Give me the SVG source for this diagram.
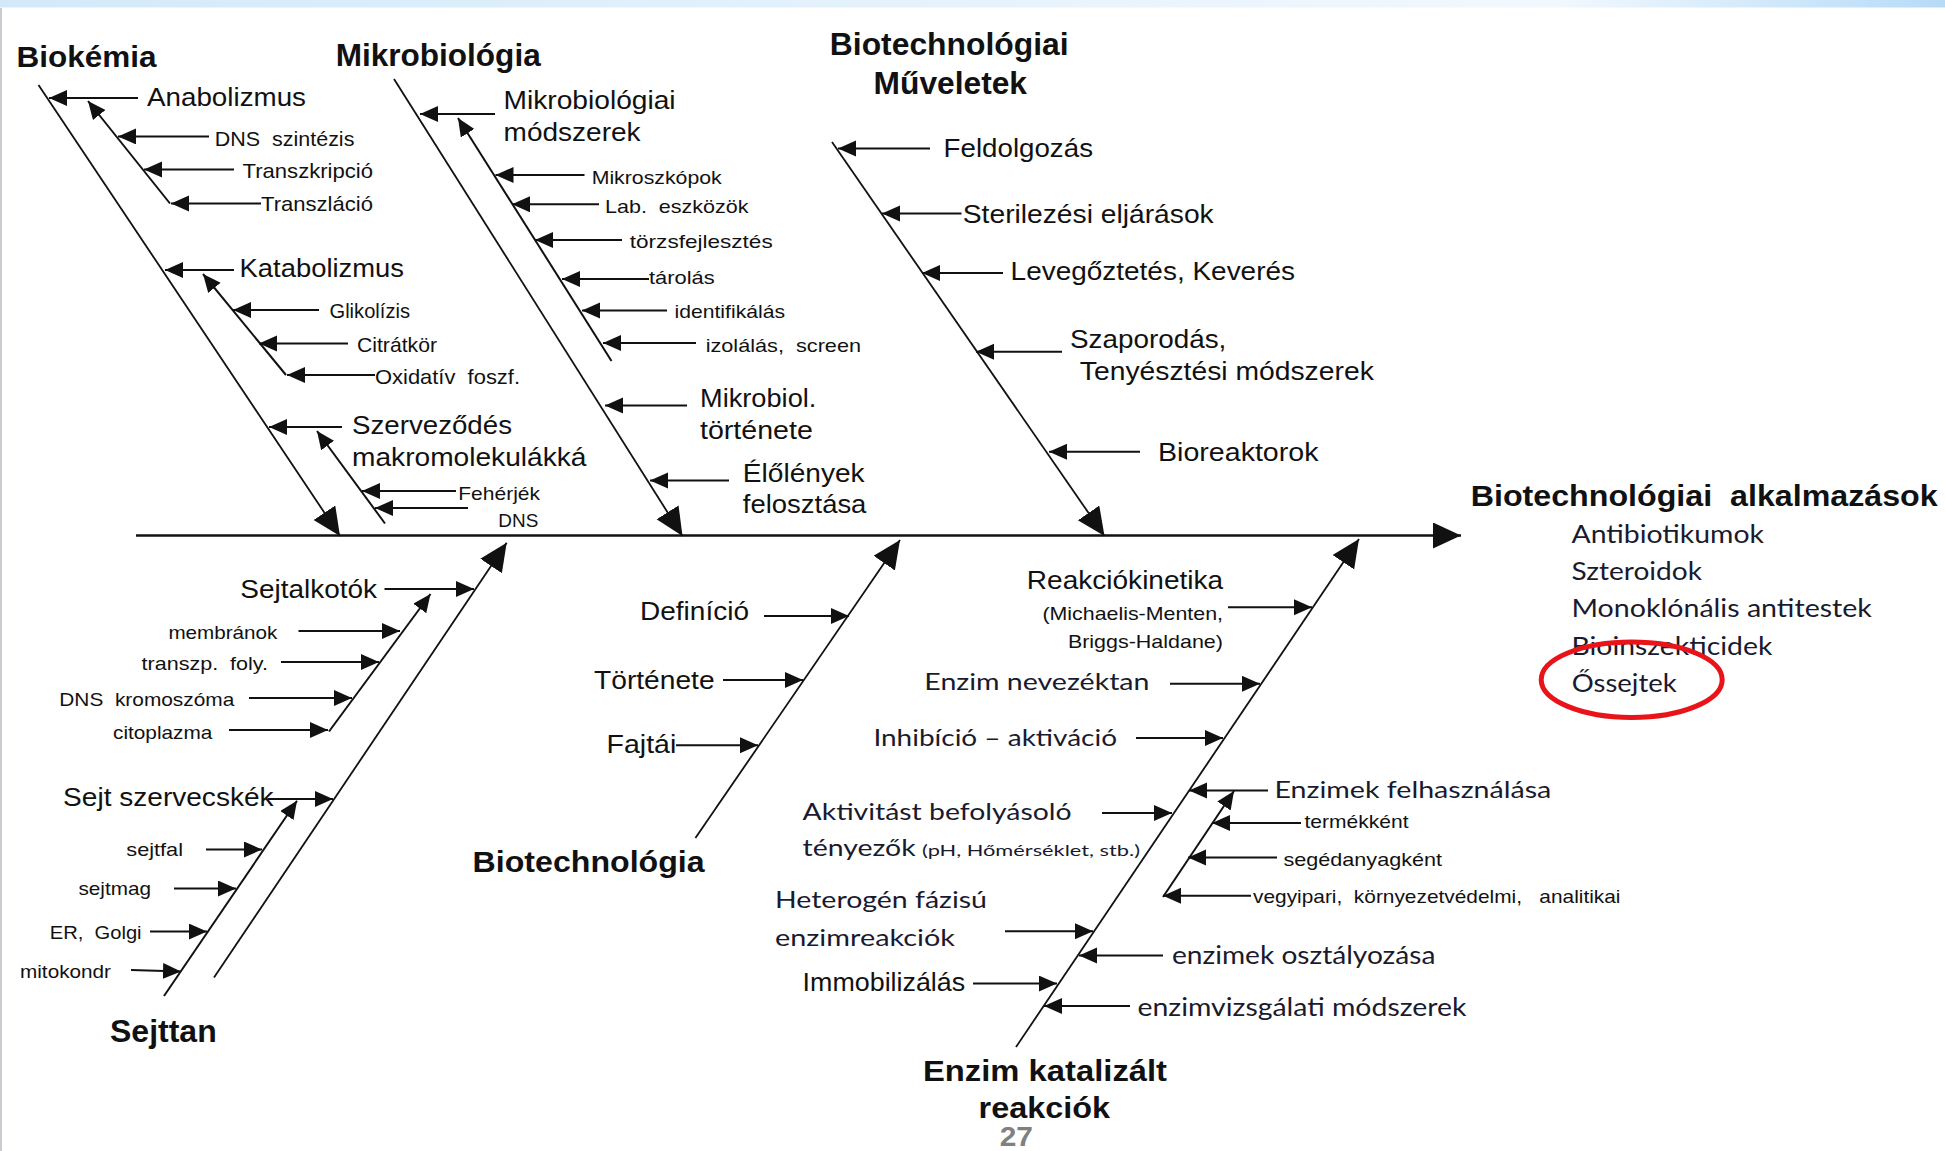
<svg xmlns="http://www.w3.org/2000/svg" width="1945" height="1151" viewBox="0 0 1945 1151" xml:space="preserve">
<defs>
<linearGradient id="band" x1="0" y1="0" x2="1" y2="0">
<stop offset="0" stop-color="#d3e9f9"/>
<stop offset="0.8" stop-color="#f2f8fe"/>
<stop offset="1" stop-color="#b6dbf7"/>
</linearGradient>
<marker id="big" markerUnits="userSpaceOnUse" markerWidth="30" markerHeight="28" refX="28" refY="13" orient="auto"><path d="M0,0 L28,13 L0,26 z" fill="#111"/></marker>
<marker id="sm" markerUnits="userSpaceOnUse" markerWidth="19" markerHeight="17" refX="18" refY="8" orient="auto"><path d="M0,0 L18,8 L0,16 z" fill="#111"/></marker>
<style>
text{font-family:"Liberation Sans",Arial,sans-serif;fill:#111;white-space:pre}
.b{font-weight:bold}
.c{font-family:Lato,"Open Sans",sans-serif;fill:#1a1a2e}
.l26{font-size:26px}
.l21{font-size:21px}
.l19{font-size:19px}
.ar{stroke:#111;stroke-width:2;fill:none;marker-end:url(#sm)}
.bg{stroke:#111;stroke-width:1.8;fill:none;marker-end:url(#big)}
.sp{stroke:#111;stroke-width:2.5;fill:none;marker-end:url(#big)}
</style>
</defs>
<rect width="1945" height="1151" fill="#fff"/>
<rect x="0" y="0" width="1945" height="7.5" fill="url(#band)"/>
<line x1="1" y1="8" x2="1" y2="1151" stroke="#c9cdd2" stroke-width="2"/>

<g id="connectors">
<line class="sp" x1="136" y1="535.5" x2="1461" y2="535.5"/>
<line class="bg" x1="38.5" y1="85" x2="340" y2="536"/>
<line class="ar" x1="138" y1="98" x2="49" y2="98"/>
<line class="ar" x1="170" y1="203.5" x2="88" y2="101"/>
<line class="ar" x1="209" y1="136.4" x2="118" y2="136.4"/>
<line class="ar" x1="234" y1="169.6" x2="144" y2="169.6"/>
<line class="ar" x1="261" y1="203.5" x2="171" y2="203.5"/>
<line class="ar" x1="234" y1="270" x2="165" y2="270"/>
<line class="ar" x1="286" y1="375" x2="203" y2="274"/>
<line class="ar" x1="319" y1="310" x2="233" y2="310"/>
<line class="ar" x1="348" y1="343.5" x2="259" y2="343.5"/>
<line class="ar" x1="375" y1="375" x2="287" y2="375"/>
<line class="ar" x1="342" y1="427" x2="269" y2="427"/>
<line class="ar" x1="385" y1="523.5" x2="317" y2="431"/>
<line class="ar" x1="456" y1="491" x2="362" y2="491"/>
<line class="ar" x1="468" y1="508" x2="375" y2="508"/>
<line class="bg" x1="394" y1="79" x2="682.5" y2="536"/>
<line class="ar" x1="495" y1="114" x2="420" y2="114"/>
<line class="ar" x1="611.5" y1="361" x2="458" y2="118"/>
<line class="ar" x1="584.5" y1="175" x2="495.5" y2="175"/>
<line class="ar" x1="599" y1="204.3" x2="512" y2="204.3"/>
<line class="ar" x1="622" y1="240" x2="535" y2="240"/>
<line class="ar" x1="649" y1="279" x2="562" y2="279"/>
<line class="ar" x1="667" y1="310.5" x2="582" y2="310.5"/>
<line class="ar" x1="696" y1="343" x2="603" y2="343"/>
<line class="ar" x1="687" y1="405.5" x2="605" y2="405.5"/>
<line class="ar" x1="729" y1="480.5" x2="650" y2="480.5"/>
<line class="bg" x1="832" y1="142" x2="1104.5" y2="536"/>
<line class="ar" x1="930" y1="148.5" x2="838" y2="148.5"/>
<line class="ar" x1="961.5" y1="213.5" x2="882" y2="213.5"/>
<line class="ar" x1="1003" y1="273" x2="922" y2="273"/>
<line class="ar" x1="1062" y1="351.7" x2="976" y2="351.7"/>
<line class="ar" x1="1140" y1="451.7" x2="1049" y2="451.7"/>
<line class="bg" x1="214" y1="977.5" x2="506.7" y2="542.7"/>
<line class="ar" x1="384.5" y1="589" x2="474" y2="589"/>
<line class="ar" x1="329" y1="731.5" x2="430.5" y2="594"/>
<line class="ar" x1="298.5" y1="631" x2="400" y2="631"/>
<line class="ar" x1="281" y1="662" x2="379" y2="662"/>
<line class="ar" x1="249" y1="698" x2="352" y2="698"/>
<line class="ar" x1="229" y1="730" x2="328" y2="730"/>
<line class="ar" x1="268" y1="799" x2="333" y2="799"/>
<line class="ar" x1="164" y1="996" x2="297" y2="800.7"/>
<line class="ar" x1="206" y1="849.5" x2="262" y2="849.5"/>
<line class="ar" x1="174" y1="888.5" x2="236" y2="888.5"/>
<line class="ar" x1="150" y1="931.6" x2="207" y2="931.6"/>
<line class="ar" x1="131" y1="970" x2="181" y2="971.5"/>
<line class="bg" x1="695.4" y1="838" x2="900" y2="540"/>
<line class="ar" x1="764" y1="616" x2="849" y2="616"/>
<line class="ar" x1="723" y1="680" x2="803" y2="680"/>
<line class="ar" x1="676" y1="745.3" x2="758" y2="745.3"/>
<line class="bg" x1="1016" y1="1047" x2="1359" y2="539"/>
<line class="ar" x1="1228" y1="607.3" x2="1312" y2="607.3"/>
<line class="ar" x1="1170" y1="683.8" x2="1260" y2="683.8"/>
<line class="ar" x1="1136" y1="738" x2="1223" y2="738"/>
<line class="ar" x1="1102" y1="813" x2="1172" y2="813"/>
<line class="ar" x1="1005" y1="931.3" x2="1093" y2="931.3"/>
<line class="ar" x1="973" y1="983.6" x2="1057" y2="983.6"/>
<line class="ar" x1="1268" y1="790.5" x2="1189" y2="790.5"/>
<line class="ar" x1="1163" y1="897" x2="1234" y2="791"/>
<line class="ar" x1="1301" y1="823" x2="1212" y2="823"/>
<line class="ar" x1="1277" y1="857.5" x2="1188" y2="857.5"/>
<line class="ar" x1="1251" y1="895.8" x2="1163" y2="895.8"/>
<line class="ar" x1="1163" y1="955.5" x2="1079" y2="955.5"/>
<line class="ar" x1="1130" y1="1006" x2="1044" y2="1006"/>
</g>

<g id="node-biokemia">
<text class="b" x="16.6" y="67" font-size="30" textLength="140" lengthAdjust="spacingAndGlyphs">Biokémia</text>
<text class="l26" x="147" y="106" textLength="159" lengthAdjust="spacingAndGlyphs">Anabolizmus</text>
<text class="l21" x="214.7" y="145.7" textLength="139.7" lengthAdjust="spacingAndGlyphs">DNS  szintézis</text>
<text class="l21" x="242.5" y="177.5" textLength="130.5" lengthAdjust="spacingAndGlyphs">Transzkripció</text>
<text class="l21" x="261" y="210.7" textLength="112" lengthAdjust="spacingAndGlyphs">Transzláció</text>
<text class="l26" x="239.6" y="276.7" textLength="164.4" lengthAdjust="spacingAndGlyphs">Katabolizmus</text>
<text class="l21" x="329.5" y="317.8" textLength="80.5" lengthAdjust="spacingAndGlyphs">Glikolízis</text>
<text class="l21" x="357" y="351.7" textLength="80" lengthAdjust="spacingAndGlyphs">Citrátkör</text>
<text class="l21" x="375" y="383.9" textLength="145" lengthAdjust="spacingAndGlyphs">Oxidatív  foszf.</text>
<text class="l26" x="352" y="434" textLength="160" lengthAdjust="spacingAndGlyphs">Szerveződés</text>
<text class="l26" x="352" y="466" textLength="234.5" lengthAdjust="spacingAndGlyphs">makromolekulákká</text>
<text class="l19" x="458.3" y="499.5" textLength="81.7" lengthAdjust="spacingAndGlyphs">Fehérjék</text>
<text class="l19" x="498.3" y="527.3" textLength="40" lengthAdjust="spacingAndGlyphs">DNS</text>
</g>

<g id="node-mikrobiologia">
<text class="b" x="335.7" y="66" font-size="31" textLength="205" lengthAdjust="spacingAndGlyphs">Mikrobiológia</text>
<text class="l26" x="503.6" y="109" textLength="172" lengthAdjust="spacingAndGlyphs">Mikrobiológiai</text>
<text class="l26" x="503.6" y="141" textLength="137" lengthAdjust="spacingAndGlyphs">módszerek</text>
<text class="l19" x="591.7" y="184" textLength="130" lengthAdjust="spacingAndGlyphs">Mikroszkópok</text>
<text class="l19" x="605" y="212.5" textLength="143.6" lengthAdjust="spacingAndGlyphs">Lab.  eszközök</text>
<text class="l19" x="629.8" y="248" textLength="142.9" lengthAdjust="spacingAndGlyphs">törzsfejlesztés</text>
<text class="l19" x="649" y="284" textLength="65.6" lengthAdjust="spacingAndGlyphs">tárolás</text>
<text class="l19" x="674.5" y="317.8" textLength="110.5" lengthAdjust="spacingAndGlyphs">identifikálás</text>
<text class="l19" x="705.7" y="351.7" textLength="155.3" lengthAdjust="spacingAndGlyphs">izolálás,  screen</text>
<text class="l26" x="700" y="407" textLength="116.4" lengthAdjust="spacingAndGlyphs">Mikrobiol.</text>
<text class="l26" x="700" y="439" textLength="112.8" lengthAdjust="spacingAndGlyphs">története</text>
<text class="l26" x="742.8" y="482" textLength="121.8" lengthAdjust="spacingAndGlyphs">Élőlények</text>
<text class="l26" x="742.8" y="512.5" textLength="123.6" lengthAdjust="spacingAndGlyphs">felosztása</text>
</g>

<g id="node-muveletek">
<text class="b" x="829.8" y="55.4" font-size="31" textLength="238.8" lengthAdjust="spacingAndGlyphs">Biotechnológiai</text>
<text class="b" x="873.6" y="93.6" font-size="31" textLength="153.4" lengthAdjust="spacingAndGlyphs">Műveletek</text>
<text class="l26" x="943.6" y="157" textLength="149.4" lengthAdjust="spacingAndGlyphs">Feldolgozás</text>
<text class="l26" x="962.8" y="223" textLength="250.9" lengthAdjust="spacingAndGlyphs">Sterilezési eljárások</text>
<text class="l26" x="1010.6" y="280" textLength="284.4" lengthAdjust="spacingAndGlyphs">Levegőztetés, Keverés</text>
<text class="l26" x="1070" y="348" textLength="156.3" lengthAdjust="spacingAndGlyphs">Szaporodás,</text>
<text class="l26" x="1079.8" y="380" textLength="294" lengthAdjust="spacingAndGlyphs">Tenyésztési módszerek</text>
<text class="l26" x="1158" y="460.7" textLength="160.5" lengthAdjust="spacingAndGlyphs">Bioreaktorok</text>
</g>

<g id="node-alkalmazasok">
<text class="b" x="1470.7" y="506" font-size="30" textLength="467" lengthAdjust="spacingAndGlyphs">Biotechnológiai  alkalmazások</text>
<text class="c" x="1571.5" y="542.7" font-size="25" textLength="192.5" lengthAdjust="spacingAndGlyphs">Antibiotikumok</text>
<text class="c" x="1571.5" y="579.5" font-size="25" textLength="130.5" lengthAdjust="spacingAndGlyphs">Szteroidok</text>
<text class="c" x="1571.5" y="617.3" font-size="25" textLength="300.4" lengthAdjust="spacingAndGlyphs">Monoklónális antitestek</text>
<text class="c" x="1571.5" y="655" font-size="25" textLength="200.8" lengthAdjust="spacingAndGlyphs">Bioinszekticidek</text>
<text class="c" x="1571.7" y="691.7" font-size="25" textLength="105" lengthAdjust="spacingAndGlyphs">Őssejtek</text>
<ellipse cx="1631.7" cy="679.7" rx="90.5" ry="37.7" fill="none" stroke="#e8141a" stroke-width="5"/>
</g>

<g id="node-sejttan">
<text class="l26" x="240.3" y="597.5" textLength="136.7" lengthAdjust="spacingAndGlyphs">Sejtalkotók</text>
<text class="l19" x="168.4" y="638.8" textLength="109" lengthAdjust="spacingAndGlyphs">membránok</text>
<text class="l19" x="141.6" y="669.8" textLength="126.4" lengthAdjust="spacingAndGlyphs">transzp.  foly.</text>
<text class="l19" x="59.3" y="706" textLength="175" lengthAdjust="spacingAndGlyphs">DNS  kromoszóma</text>
<text class="l19" x="113" y="738.7" textLength="99.4" lengthAdjust="spacingAndGlyphs">citoplazma</text>
<text class="l26" x="63.1" y="806" textLength="210.5" lengthAdjust="spacingAndGlyphs">Sejt szervecskék</text>
<text class="l19" x="126.3" y="855.8" textLength="56.7" lengthAdjust="spacingAndGlyphs">sejtfal</text>
<text class="l19" x="78.5" y="895.4" textLength="72.5" lengthAdjust="spacingAndGlyphs">sejtmag</text>
<text class="l19" x="49.8" y="938.5" textLength="91.8" lengthAdjust="spacingAndGlyphs">ER,  Golgi</text>
<text class="l19" x="20" y="978.3" textLength="91" lengthAdjust="spacingAndGlyphs">mitokondr</text>
<text class="b" x="110" y="1041.7" font-size="32" textLength="106.7" lengthAdjust="spacingAndGlyphs">Sejttan</text>
</g>

<g id="node-biotechnologia">
<text class="l26" x="640" y="619.8" textLength="109" lengthAdjust="spacingAndGlyphs">Definíció</text>
<text class="l26" x="594" y="689" textLength="120.6" lengthAdjust="spacingAndGlyphs">Története</text>
<text class="l26" x="606.6" y="752.6" textLength="69.7" lengthAdjust="spacingAndGlyphs">Fajtái</text>
<text class="b" x="472.6" y="872" font-size="30" textLength="232" lengthAdjust="spacingAndGlyphs">Biotechnológia</text>
</g>

<g id="node-enzim">
<text class="l26" x="1026.8" y="589" textLength="196.4" lengthAdjust="spacingAndGlyphs">Reakciókinetika</text>
<text class="l19" x="1042.4" y="620.3" textLength="180.6" lengthAdjust="spacingAndGlyphs">(Michaelis-Menten,</text>
<text class="l19" x="1067.9" y="648.2" textLength="155" lengthAdjust="spacingAndGlyphs">Briggs-Haldane)</text>
<text class="c" x="924.3" y="690.3" font-size="24" textLength="225.2" lengthAdjust="spacingAndGlyphs">Enzim nevezéktan</text>
<text class="c" x="873.4" y="745.8" font-size="24" textLength="243.6" lengthAdjust="spacingAndGlyphs">Inhibíció – aktiváció</text>
<text class="c" x="802.6" y="819.8" font-size="24" textLength="269" lengthAdjust="spacingAndGlyphs">Aktivitást befolyásoló</text>
<text class="c" x="802.6" y="856" font-size="24" textLength="113" lengthAdjust="spacingAndGlyphs">tényezők</text>
<text class="c" x="922" y="856" font-size="16" textLength="218" lengthAdjust="spacingAndGlyphs">(pH, Hőmérséklet, stb.)</text>
<text class="c" x="775" y="908.3" font-size="24" textLength="212" lengthAdjust="spacingAndGlyphs">Heterogén fázisú</text>
<text class="c" x="775" y="945.7" font-size="24" textLength="180" lengthAdjust="spacingAndGlyphs">enzimreakciók</text>
<text x="802.6" y="990.8" font-size="25" textLength="162.6" lengthAdjust="spacingAndGlyphs">Immobilizálás</text>
<text class="c" x="1274.5" y="797.5" font-size="24" textLength="276.8" lengthAdjust="spacingAndGlyphs">Enzimek felhasználása</text>
<text class="l19" x="1304.5" y="828" textLength="104" lengthAdjust="spacingAndGlyphs">termékként</text>
<text class="l19" x="1283.5" y="866.3" textLength="158.5" lengthAdjust="spacingAndGlyphs">segédanyagként</text>
<text class="l19" x="1253" y="902.7" textLength="367.5" lengthAdjust="spacingAndGlyphs">vegyipari,  környezetvédelmi,   analitikai</text>
<text class="c" x="1172" y="964" font-size="25" textLength="263.4" lengthAdjust="spacingAndGlyphs">enzimek osztályozása</text>
<text class="c" x="1137.5" y="1015.6" font-size="25" textLength="329" lengthAdjust="spacingAndGlyphs">enzimvizsgálati módszerek</text>
<text class="b" x="923" y="1081.4" font-size="30" textLength="244" lengthAdjust="spacingAndGlyphs">Enzim katalizált</text>
<text class="b" x="978.6" y="1118.4" font-size="30" textLength="131.4" lengthAdjust="spacingAndGlyphs">reakciók</text>
</g>

<g id="page-number">
<text class="b" x="999.7" y="1145.7" font-size="28" style="fill:#808080" textLength="33.3" lengthAdjust="spacingAndGlyphs">27</text>
</g>
</svg>
